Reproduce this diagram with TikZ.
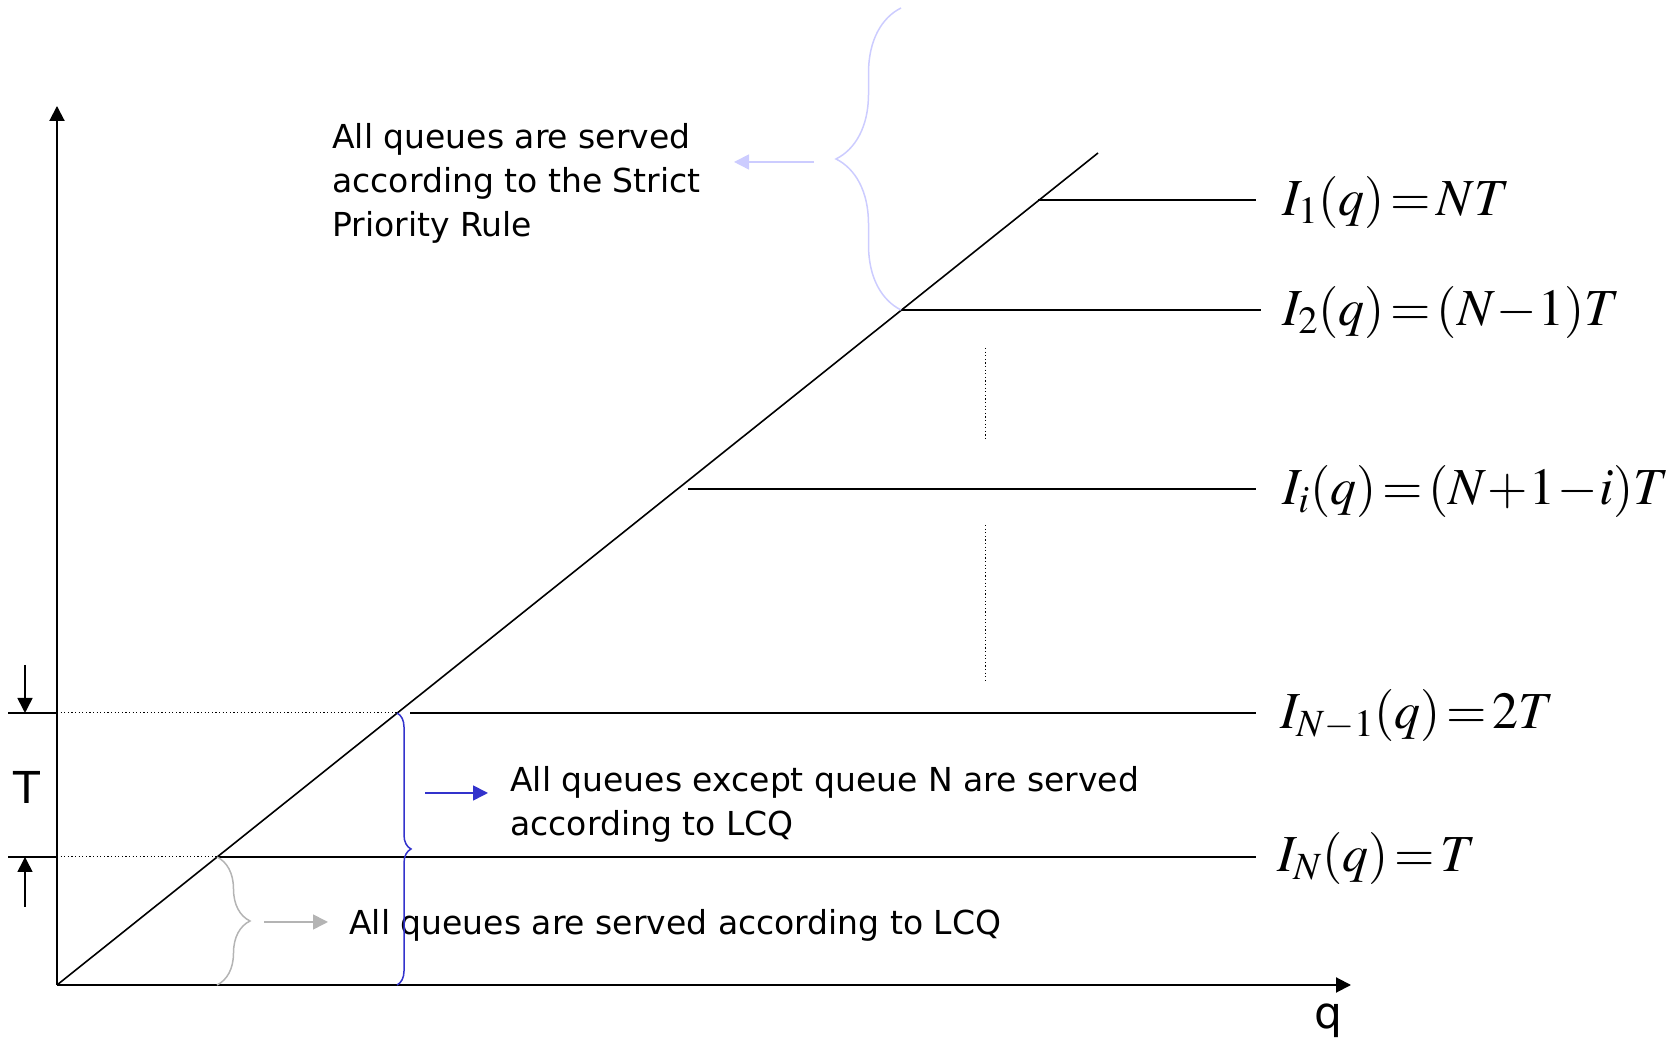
\documentclass[tikz,border=0pt]{standalone}
\usepackage{amsmath}
\usepackage{mathptmx}
\usepackage[no-math]{fontspec}
\newfontfamily\lab{DejaVu Sans}
\usepackage{xcolor}
\usepackage{tikz}
\usetikzlibrary{arrows.meta, decorations.pathreplacing}

\definecolor{lcqgray}{RGB}{180,180,180}
\definecolor{lcqblue}{RGB}{51,51,204}
\definecolor{sprlilac}{RGB}{204,204,255}
\newcommand{\tightmath}{\thickmuskip=2mu\relax\medmuskip=0.5mu\relax}

\begin{document}
\begin{tikzpicture}[x=0.5pt, y=0.5pt, >={Triangle[length=7.5pt, width=7.5pt]},
    axis/.style={line width=1pt},
    level/.style={line width=0.8pt},
    guide/.style={line width=0.5pt, dash pattern=on 0.6pt off 1.2pt},
    txt/.style={font=\lab\fontsize{16.5}{22}\selectfont, inner sep=0pt, anchor=west, align=left},
    formula/.style={font=\fontsize{26}{30}\selectfont\tightmath, inner sep=0pt, anchor=west},
    curly/.style={decorate, decoration={brace, amplitude=#1}, line width=0.75pt}]

    \useasboundingbox (-57,-62) rectangle (1622,985);

    % =================================================================
    % 1. MAIN POINTS
    % =================================================================
    \coordinate (O) at (0,0);
    \coordinate (Ytop) at (0,879);
    \coordinate (Xend) at (1294,0);
    \coordinate (D) at (1041,832);
    % where the levels meet the line
    \coordinate (P1) at (981,785);
    \coordinate (P2) at (844,675);
    \coordinate (Pi) at (620,496);
    \coordinate (PA) at (340,272);
    \coordinate (PB) at (160,128);
    \coordinate (Si) at (631,496);
    \coordinate (SA) at (353,272);
    % on the axes
    \coordinate (YA) at (0,272);
    \coordinate (YB) at (0,128);
    \coordinate (LA) at (-49,272);
    \coordinate (LB) at (-49,128);
    \coordinate (XA) at (340,0);
    \coordinate (XB) at (160,0);

    % =================================================================
    % 2. AXES AND THE LINE
    % =================================================================
    \draw[axis,->] (O) -- (Ytop);
    \draw[axis,->] (O) -- (Xend);
    \draw[level] (O) -- (D);
    \node[font=\lab\fontsize{22}{24}\selectfont] (q) at (1271,-36) {q};

    % =================================================================
    % 3. LEVELS
    % =================================================================
    \node[formula] (f1) at (1225,782) {$I_1(q) = NT$};
    \node[formula] (f2) at (1225,672) {$I_2(q) = (N-1)T$};
    \node[formula] (fi) at (1225,493) {$I_i(q) = (N+1-i)T$};
    \node[formula] (fA) at (1223,269) {$I_{N-1}(q) = 2T$};
    \node[formula] (fB) at (1220,126) {$I_N(q) = T$};

    \draw[level] (P1) -- (1199,785);
    \draw[level] (P2) -- (1204,675);
    \draw[level] (Si) -- (1199,496);
    \draw[level] (SA) -- (1199,272);
    \draw[level] (PB) -- (1199,128);

    % dots between the levels
    \draw[guide] (928,637) -- (928,544);
    \draw[guide] (928,460) -- (928,303);

    % =================================================================
    % 4. THE STEP T ON THE LEFT
    % =================================================================
    \draw[level] (LA) -- (YA);
    \draw[level] (LB) -- (YB);
    \draw[guide] (YA) -- (PA);
    \draw[guide] (YB) -- (PB);
    \draw[level,->] (-32,320) -- (-32,272);
    \draw[level,->] (-32,78) -- (-32,128);
    \node[font=\lab\fontsize{22}{24}\selectfont] (T) at (-30,198) {T};

    % =================================================================
    % 5. BRACES AND NOTES
    % =================================================================
    \draw[curly=16.5pt, lcqgray] (PB) -- (XB);
    \draw[level,->, lcqgray] (207,63) -- (271,63);
    \node[txt] (lcq) at (292,60) {All queues are served according to LCQ};

    \draw[curly=7pt, lcqblue] (PA) -- (XA);
    \draw[level,->, lcqblue] (368,192) -- (431,192);
    \node[txt] (exc) at (453,181) {All queues except queue N are served\\according to LCQ};

    \draw[curly=32.5pt, sprlilac] (P2) -- (844,977);
    \draw[level,->, sprlilac] (757,823) -- (677,823);
    \node[txt] (spr) at (275,802) {All queues are served\\according to the Strict\\Priority Rule};

\end{tikzpicture}
\end{document}
